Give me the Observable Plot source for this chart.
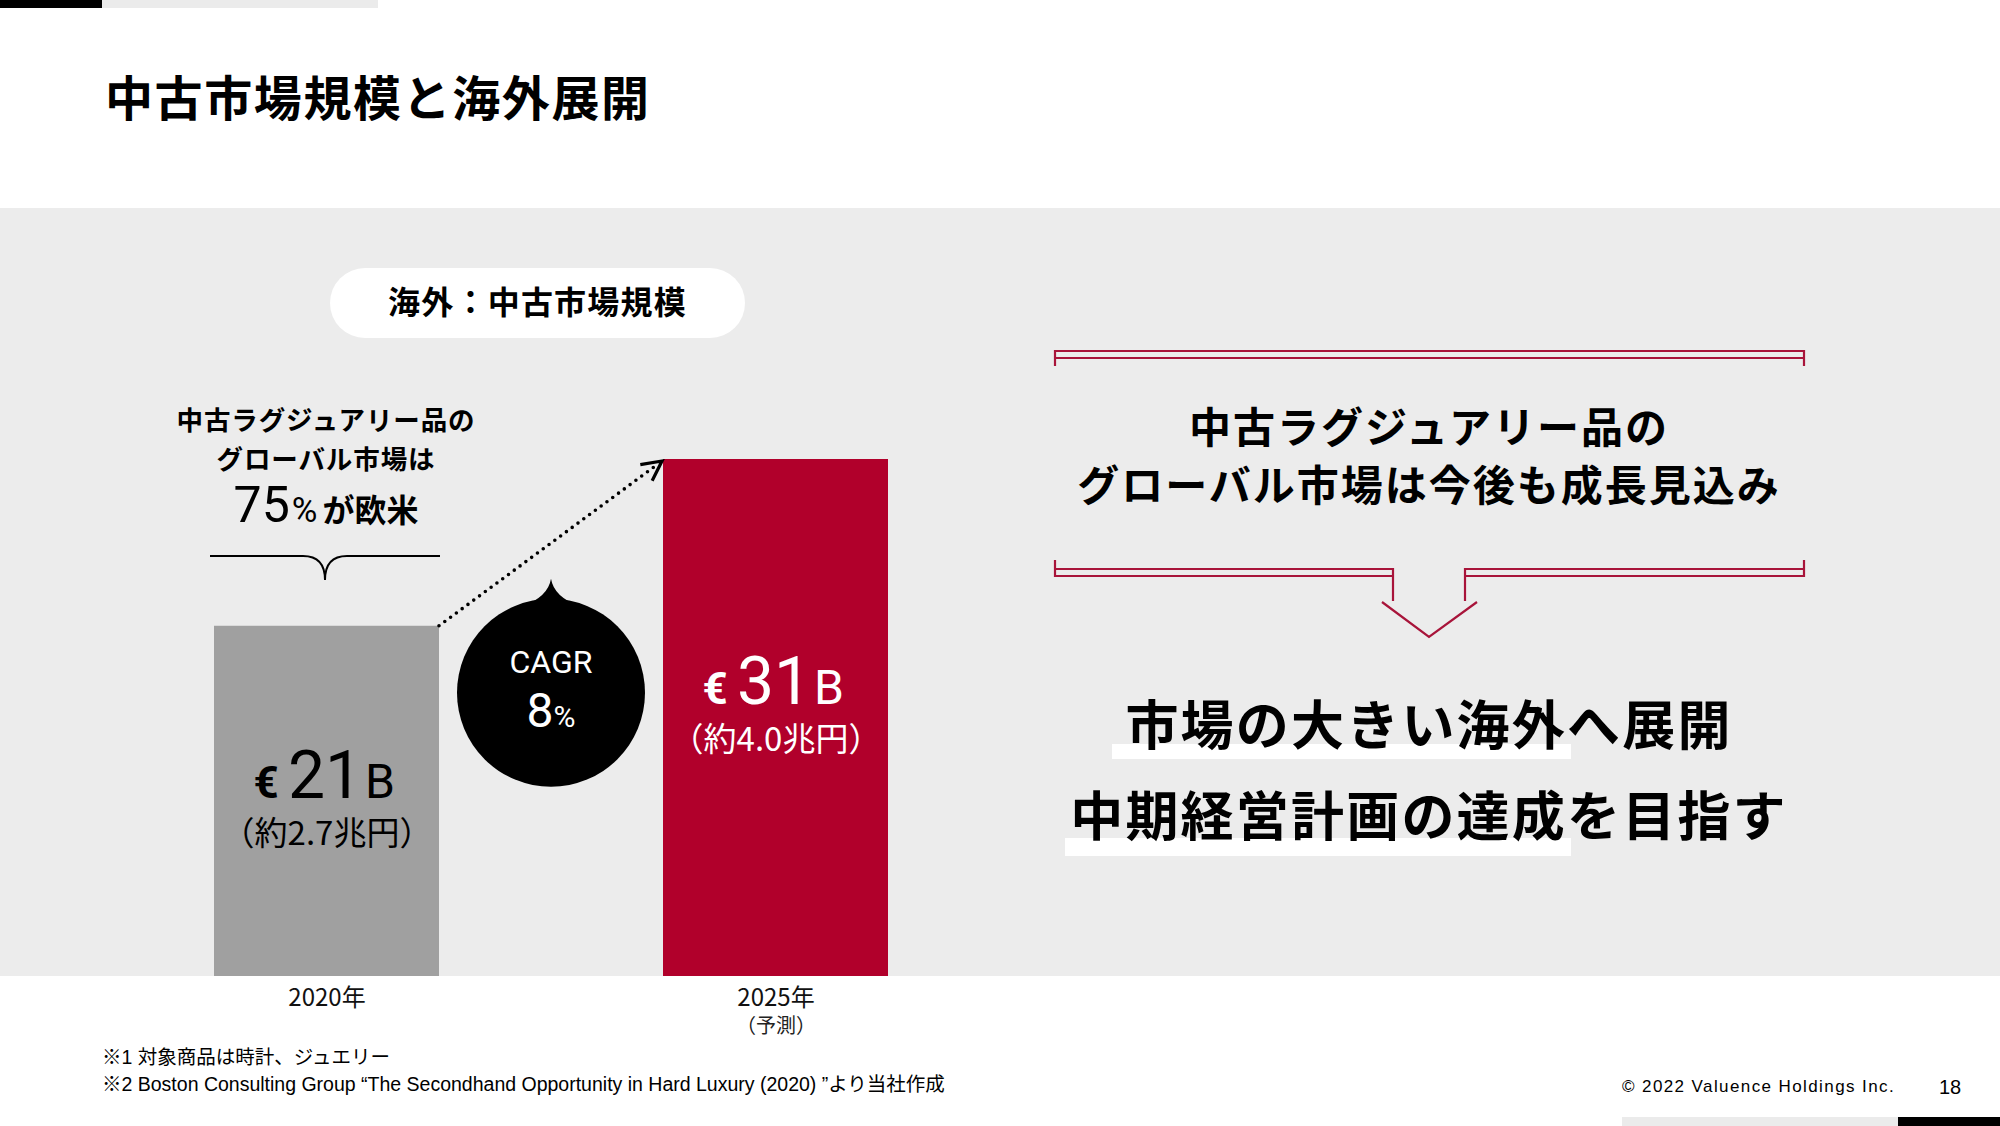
<!DOCTYPE html>
<html>
<head>
<meta charset="utf-8">
<script src="https://cdn.jsdelivr.net/npm/d3@7"></script>
<script src="https://cdn.jsdelivr.net/npm/@observablehq/plot@0.6"></script>
<style>
  html, body { margin: 0; padding: 0; }
  body { width: 2000px; height: 1126px; position: relative; overflow: hidden; background: #fff;
         font-family: "Noto Sans CJK JP", "Noto Sans", sans-serif; color: #000; }
  .abs { position: absolute; }
  .bar-top-black { left: 0; top: 0; width: 102px; height: 8px; background: #000; }
  .bar-top-grey { left: 102px; top: 0; width: 276px; height: 8px; background: #ebebeb; }
  .title { left: 105px; top: 71px; font-size: 48px; line-height: 48px; font-weight: 700; letter-spacing: 1.6px; }
  .panel { left: 0; top: 208px; width: 2000px; height: 768px; background: #ececec; }
  .pill { left: 330px; top: 268px; width: 415px; height: 70px; border-radius: 35px; background: #fff; }
  .pill-text { left: 330px; top: 284px; width: 415px; text-align: center; font-size: 32px; line-height: 32px; font-weight: 700; letter-spacing: 1.2px; }
  .note { left: 126px; width: 400px; text-align: center; font-weight: 700; font-size: 26.5px; line-height: 38.5px; letter-spacing: 0.9px; white-space: nowrap; }
  .share { left: 126px; width: 400px; text-align: center; top: 475px; height: 60px; line-height: 60px; font-weight: 700; white-space: nowrap; }
  .share .big { font-family: Roboto, "Liberation Sans", sans-serif; font-weight: 400; font-size: 50px; }
  .share .pct { font-family: Roboto, "Liberation Sans", sans-serif; font-weight: 400; font-size: 35px; margin: 0 5px 0 2px; }
  .share .jp { font-size: 32px; }
  .msg { left: 1029px; width: 800px; text-align: center; font-weight: 700; white-space: nowrap; }
  .msg1 { top: 396px; font-size: 42px; line-height: 58px; letter-spacing: 2px; }
  .msg2 { font-size: 53px; line-height: 53px; letter-spacing: 2.2px; }
  .hl { background: #fff; }
  .foot { left: 102px; font-family: "Liberation Sans", "Noto Sans CJK JP", sans-serif; font-size: 19.5px; line-height: 20px; white-space: nowrap; }
  .copy { left: 1622px; top: 1078px; font-family: "Liberation Sans", sans-serif; font-size: 17px; line-height: 18px; letter-spacing: 1.4px; white-space: nowrap; }
  .page { left: 1939px; top: 1077px; font-family: "Liberation Sans", sans-serif; font-size: 20px; line-height: 20px; }
  .bot-grey { left: 1622px; top: 1117px; width: 276px; height: 9px; background: #ebebeb; }
  .bot-black { left: 1898px; top: 1117px; width: 102px; height: 9px; background: #000; }
  #chart { position: absolute; left: 0; top: 208px; }
  svg.deco { position: absolute; left: 0; top: 0; pointer-events: none; }
</style>
</head>
<body>
<div class="abs bar-top-black"></div>
<div class="abs bar-top-grey"></div>
<div class="abs title">中古市場規模と海外展開</div>
<div class="abs panel"></div>
<div class="abs pill"></div>
<div class="abs pill-text">海外：中古市場規模</div>

<div class="abs note" style="top:400px">中古ラグジュアリー品の</div>
<div class="abs note" style="top:438.5px">グローバル市場は</div>
<div class="abs share"><span class="big">75</span><span class="pct">%</span><span class="jp">が欧米</span></div>

<div class="abs hl" style="left:1112px;top:744px;width:459px;height:15px"></div>
<div class="abs hl" style="left:1065px;top:838px;width:506px;height:18px"></div>
<div class="abs msg msg1">中古ラグジュアリー品の<br>グローバル市場は今後も成長見込み</div>
<div class="abs msg msg2" style="top:696px">市場の大きい海外へ展開</div>
<div class="abs msg msg2" style="top:787px">中期経営計画の達成を目指す</div>

<svg class="deco" width="2000" height="1126">
  <g fill="none" stroke="#000" stroke-width="2">
    <path d="M210,556 H303 Q325,556 325,580 M440,556 H347 Q325,556 325,580"/>
  </g>
  <g fill="none" stroke="#a8143a" stroke-width="2.2">
    <path d="M1055,366 V351 H1804 V366 M1055,358 H1804"/>
    <path d="M1055,560 V576 H1393 M1055,569 H1393 V601 M1804,560 V576 H1465 M1804,569 H1465 V601"/>
    <path d="M1382,602 L1429,637 L1477,602"/>
  </g>
</svg>

<div id="chart"></div>

<div class="abs foot" style="top:1047px">※1 対象商品は時計、ジュエリー</div>
<div class="abs foot" style="top:1074px">※2 Boston Consulting Group “The Secondhand Opportunity in Hard Luxury (2020) ”より当社作成</div>
<div class="abs copy">© 2022 Valuence Holdings Inc.</div>
<div class="abs page">18</div>
<div class="abs bot-grey"></div>
<div class="abs bot-black"></div>

<script>
// ---- data ----
const years = ["2020年", "2025年"];
const yearNotes = ["", "（予測）"];
const values = [21, 31];
const yenLabels = ["（約2.7兆円）", "（約4.0兆円）"];
const barColors = ["#a0a0a0", "#b1002b"];
const labelInks = ["#000000", "#ffffff"];
const cagrLabel = "CAGR";
const cagrValue = "8";

const data = years.map((year, i) => ({
  year, value: values[i], color: barColors[i], ink: labelInks[i], yen: yenLabels[i], note: yearNotes[i]
}));

const numFont = "Roboto, 'Liberation Sans', sans-serif";
const labelY = d => d.value * 0.564 - 1.13;

const chart = Plot.plot({
  width: 2000,
  height: 840,
  marginTop: 251,
  marginBottom: 72,
  marginLeft: 102,
  marginRight: 1000,
  style: {background: "transparent", overflow: "visible", fontFamily: "'Noto Sans CJK JP', sans-serif", color: "#000"},
  x: {domain: years, paddingInner: 0.5, paddingOuter: 0.25, label: null},
  y: {domain: [0, d3.max(values)], axis: null},
  color: {type: "identity"},
  marks: [
    Plot.barY(data, {x: "year", y: "value", fill: "color"}),
    Plot.axisX({tickSize: 0, tickPadding: 12, fontSize: 24, label: null, fill: "#111"}),
    Plot.text(data, {x: "year", frameAnchor: "bottom", dy: 56, text: "note", fontSize: 20, fill: "#222"}),
    Plot.text(data, {x: "year", y: labelY, text: () => "€", dx: -61, lineAnchor: "bottom",
                     fontSize: 44, fontWeight: "bold", fontFamily: numFont, fill: "ink"}),
    Plot.text(data, {x: "year", y: labelY, text: d => String(d.value), dx: -2, lineAnchor: "bottom",
                     fontSize: 66, fontFamily: numFont, fill: "ink"}),
    Plot.text(data, {x: "year", y: labelY, text: () => "B", dx: 53, lineAnchor: "bottom",
                     fontSize: 48, fontFamily: numFont, fill: "ink"}),
    Plot.text(data, {x: "year", y: labelY, text: "yen", dy: 37, lineAnchor: "middle",
                     fontSize: 33, fill: "ink"})
  ]
});
document.getElementById("chart").appendChild(chart);

// ---- growth arrow and CAGR bubble, positioned with the chart's own scales ----
const sx = chart.scale("x"), sy = chart.scale("y");
const bw = sx.bandwidth;
const xa = sx.apply(years[0]) + bw, ya = sy.apply(values[0]);
const xb = sx.apply(years[1]) - 1, yb = sy.apply(values[1]) + 2;
const svg = d3.select(chart);
const g = svg.append("g");
g.append("line")
  .attr("x1", xa).attr("y1", ya).attr("x2", xb - 4).attr("y2", yb + 3)
  .attr("stroke", "#000").attr("stroke-width", 3.6).attr("stroke-linecap", "round")
  .attr("stroke-dasharray", "0 7.2");
const ang = Math.atan2(yb - ya, xb - xa) + Math.PI;
const L = 22, spread = 0.47;
g.append("path")
  .attr("d", `M${xb + L * Math.cos(ang - spread)},${yb + L * Math.sin(ang - spread)} L${xb},${yb} L${xb + L * Math.cos(ang + spread)},${yb + L * Math.sin(ang + spread)}`)
  .attr("fill", "none").attr("stroke", "#000").attr("stroke-width", 3.2).attr("stroke-linejoin", "miter");

const cx = (sx.apply(years[0]) + bw + sx.apply(years[1])) / 2;
const cy = ya + 67, r = 94;
const jx = 28, jy = Math.sqrt(r * r - jx * jx);
g.append("circle").attr("cx", cx).attr("cy", cy).attr("r", r).attr("fill", "#000");
g.append("path")
  .attr("d", `M${cx - jx},${cy - jy + 3} Q${cx - 3},${cy - r - 2} ${cx},${cy - r - 20} Q${cx + 3},${cy - r - 2} ${cx + jx},${cy - jy + 3} Z`)
  .attr("fill", "#000");
g.append("text").attr("x", cx).attr("y", cy - 20).attr("text-anchor", "middle")
  .attr("font-family", numFont).attr("font-size", 32).attr("fill", "#fff").text(cagrLabel);
const t8 = g.append("text").attr("x", cx).attr("y", cy + 34).attr("text-anchor", "middle")
  .attr("font-family", numFont).attr("fill", "#fff");
t8.append("tspan").attr("font-size", 48).text(cagrValue);
t8.append("tspan").attr("font-size", 30).text("%");
</script>
</body>
</html>
